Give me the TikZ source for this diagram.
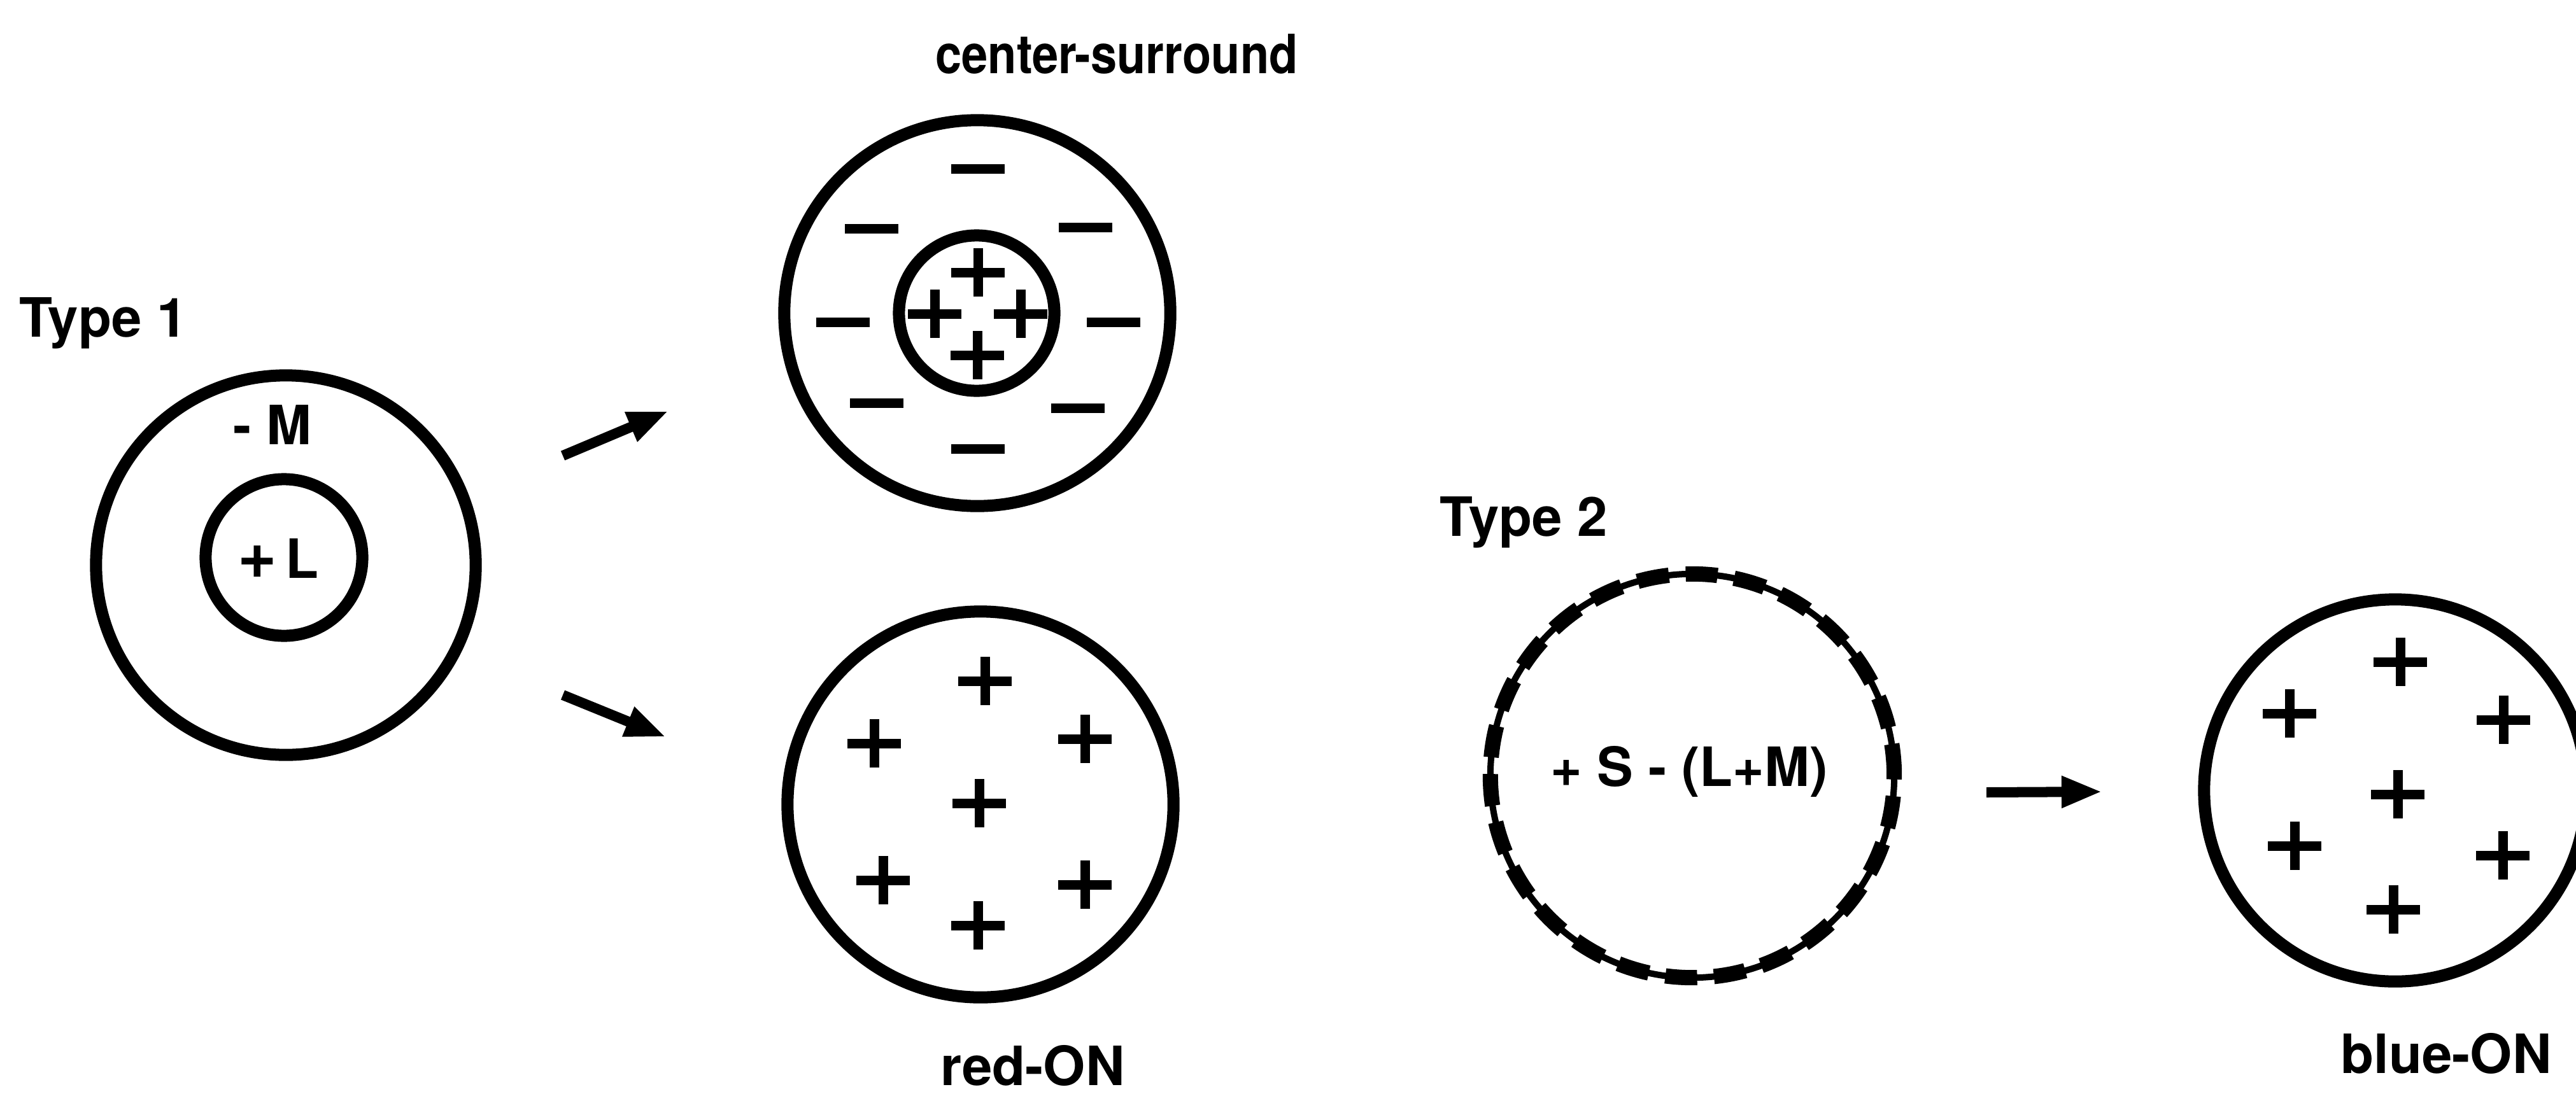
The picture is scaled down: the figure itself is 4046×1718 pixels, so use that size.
\documentclass[tikz,border=0pt]{standalone}
\usepackage{fontspec}
\usepackage{graphicx}
\setmainfont{TeX Gyre Heros}
\usetikzlibrary{arrows.meta}
\begin{document}
\begin{tikzpicture}[x=0.01cm,y=-0.01cm,
  ring/.style={circle,draw,line width=0.19cm,inner sep=0pt,outer sep=0pt},
  lbl/.style={inner sep=0pt,font=\fontsize{24.2pt}{29pt}\selectfont\bfseries},
  sign/.style={line width=0.15cm},
  arr/.style={line width=0.16cm,-{Triangle[length=0.64cm,width=0.46cm]}},
  pplus/.pic={\draw[sign] (-42,0) -- (42,0) (0,-38) -- (0,38);},
  mminus/.pic={\draw[sign] (-42,0) -- (42,0);}
]
\useasboundingbox (0,0) rectangle (4046,1718);
\clip (0,0) rectangle (4046,1718);

% Type 1
\node[lbl,anchor=base west] (type1) at (30,529) {Type 1};
\node[ring,minimum size=5.96cm] (t1out) at (449,888) {};
\node[ring,minimum size=2.46cm] (t1in) at (446,876) {};
\node[lbl,anchor=base] (mlabel) at (428,698) {- M};
\node[lbl,anchor=base] (llabel) at (437,908) {{\fontsize{30pt}{30pt}\selectfont +}\,L};

% arrows from Type 1
\coordinate (a1s) at (884,716);
\coordinate (a1e) at (1050,646);
\coordinate (a2s) at (884,1092);
\coordinate (a2e) at (1046,1158);
\draw[arr] (a1s) -- (a1e);
\draw[arr] (a2s) -- (a2e);

% center-surround
\node[lbl,anchor=base] (cslabel) at (1754,115) {\scalebox{0.87}[1]{center-surround}};
\node[ring,minimum size=6.06cm] (csout) at (1535,492) {};
\node[ring,minimum size=2.44cm] (csin) at (1534,492) {};
\foreach \p in {(1536,265),(1369,359),(1705,357),(1324,506),(1749,506),(1377,633),(1693,641),(1536,705)}
  \pic at \p {mminus};
\foreach \p in {(1536,428),(1468,493),(1603,493),(1535,558)}
  \pic at \p {pplus};

% red-ON
\node[ring,minimum size=6.06cm] (red) at (1540,1264) {};
\foreach \p in {(1547,1070),(1373,1168),(1704,1161),(1538,1262),(1387,1383),(1704,1390),(1536,1454)}
  \pic at \p {pplus};
\node[lbl,anchor=base] (redlabel) at (1622,1705) {red-ON};

% Type 2
\node[lbl,anchor=base west] (type2) at (2261,842) {Type 2};
\node[circle,draw,line width=0.1cm,inner sep=0pt,minimum size=6.34cm] (t2) at (2658,1219) {};
\draw[line width=0.24cm,dash pattern=on 0.5cm off 0.264cm] (t2.center) circle[radius=3.17cm];
\node[lbl,anchor=base] (t2text) at (2653,1235) {+ S - (L+M)};

% arrow to blue-ON
\coordinate (a3s) at (3120,1245);
\coordinate (a3e) at (3302,1244);
\draw[arr] (a3s) -- (a3e);

% blue-ON
\node[ring,minimum size=6.0cm] (blue) at (3762,1242) {};
\foreach \p in {(3770,1040),(3596,1121),(3932,1131),(3766,1248),(3604,1329),(3931,1344),(3759,1429)}
  \pic at \p {pplus};
\node[lbl,anchor=base] (bluelabel) at (3842,1686) {blue-ON};
\end{tikzpicture}
\end{document}
